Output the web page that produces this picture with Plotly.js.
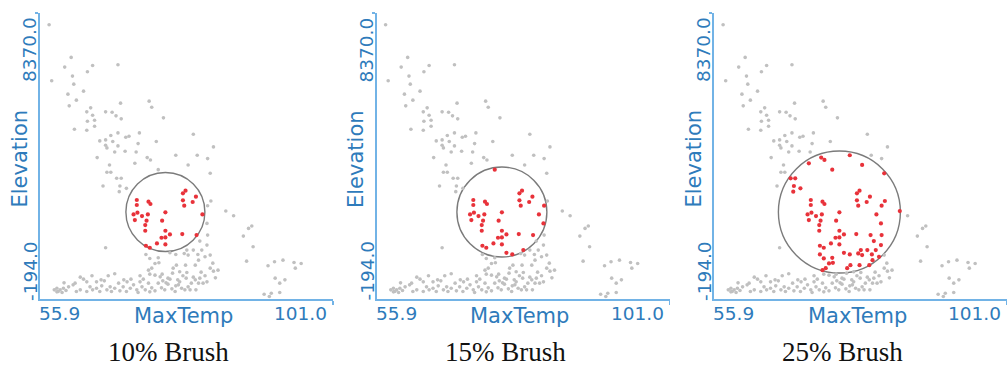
<!DOCTYPE html>
<html>
<head>
<meta charset="utf-8">
<script src="https://cdn.plot.ly/plotly-3.0.1.min.js"></script>
<style>
  html, body { margin: 0; padding: 0; background: #ffffff; }
  #chart { width: 1007px; height: 367px; }
</style>
</head>
<body>
<div id="chart"></div>
<script>
// Weather stations: daily maximum temperature vs. station elevation
const maxTemp = [
  57.3, 60.7, 59.7, 64.0, 67.9, 63.2, 60.9, 57.7, 61.1, 62.6,
  60.2, 61.5, 68.3, 72.7, 73.1, 60.4, 63.7, 63.1, 66.0, 67.0,
  64.0, 67.6, 68.4, 74.9, 63.2, 64.3, 64.3, 61.2, 63.1, 67.9,
  71.2, 66.8, 65.1, 66.0, 67.1, 69.1, 69.6, 73.8, 71.0, 66.0,
  66.2, 67.9, 67.4, 69.0, 70.7, 64.7, 72.4, 76.8, 79.5, 82.6,
  80.1, 81.7, 66.6, 72.9, 66.2, 66.8, 74.1, 67.7, 68.4, 65.6,
  68.2, 68.1, 69.2, 66.0, 78.7, 82.1, 82.2, 81.7, 84.5, 85.7,
  81.6, 88.5, 88.0, 87.2, 88.7, 81.7, 80.5, 81.6, 87.7, 91.0,
  92.0, 93.3, 95.0, 96.1, 95.2, 92.1, 93.6, 92.8, 90.4, 91.2,
  91.5, 92.8, 80.8, 80.2, 79.5, 78.7, 80.3, 82.1, 81.3, 79.8,
  83.3, 82.6, 82.9, 81.3, 80.5, 81.6, 79.8, 79.2, 78.7, 80.3,
  79.0, 72.2, 72.8, 74.1, 75.9, 76.8, 78.1, 78.5, 73.6, 74.2,
  72.6, 73.1, 72.8, 73.6, 74.4, 75.6, 76.3, 76.4, 76.9, 77.4,
  78.3, 78.5, 67.4, 65.3, 64.6, 62.6, 62.1, 61.3, 61.0, 60.3,
  59.5, 59.0, 58.5, 58.1, 58.7, 63.1, 63.6, 64.0, 64.6, 65.4,
  66.2, 66.7, 67.4, 68.0, 68.2, 68.7, 69.3, 69.8, 70.3, 70.8,
  71.3, 71.6, 72.1, 72.6, 73.1, 73.6, 74.1, 74.6, 75.1, 75.6,
  76.2, 76.7, 77.2, 77.7, 78.2, 62.1, 61.5, 63.1, 65.1, 66.9,
  69.2, 74.8, 77.1, 77.9, 71.3, 68.8, 63.9, 59.6, 70.5,
  58.5, 59.3, 59.9, 65.8, 66.4, 69.9, 71.8, 74.7, 75.3, 75.9,
  76.8, 77.4, 78.4, 79.5, 80.7, 82.1, 82.5, 79.9, 81.0, 72.8,
  71.0,
  77.9, 78.3, 77.9, 78.1, 79.4, 79.9, 80.9, 70.8, 70.8, 72.6,
  72.9, 70.3, 70.9, 70.5, 71.6, 72.5, 72.3, 72.1, 72.1, 75.2,
  74.7, 75.2, 75.9, 75.2, 74.6, 73.9, 75.2, 77.8, 80.0, 72.2,
  72.8
];
const elevation = [
  8020, 7040, 6750, 6800, 6820, 6610, 6480, 6340, 6240, 6030,
  5940, 5760, 5670, 5730, 5550, 5590, 5530, 5410, 5410, 5400,
  5310, 5290, 5200, 5230, 5130, 5160, 4980, 4890, 4860, 4780,
  4780, 4700, 4540, 4570, 4520, 4650, 4680, 4520, 4460, 4410,
  4330, 4390, 4210, 4230, 4210, 4040, 4040, 4110, 4740, 4360,
  4110, 4010, 3820, 3970, 3600, 3600, 3680, 3420, 3420, 3190,
  3190, 3020, 3120, 1340, 3820, 3570, 2740, 2600, 2440, 2300,
  2070, 1990, 1920, 1690, 1370, 1720, 1540, 1420, 940, 800,
  920, 970, 900, 870, 730, 430, 380, 280, -50, -120,
  -20, 0, 1270, 1140, 1270, 1120, 970, 1120, 1070, 820,
  670, 640, 440, 500, 430, 320, 380, 280, 170, 280,
  80, 1140, 1020, 1040, 1190, 1140, 1170, 1270, 870, 890,
  670, 730, 550, 520, 470, 430, 580, 730, 820, 620,
  820, 600, 560, 380, 320, 400, 460, 280, 230, 170,
  130, 80, 130, 80, 30, 320, 170, 80, 130, 200,
  80, 170, 130, 280, 50, 170, 320, 130, 230, 80,
  320, 170, 80, 280, 140, 50, 280, 140, 80, 250,
  110, 30, 230, 130, 80, 80, 30, 30, 30, 30,
  30, 350, 380, 500, 500, 380, 500, 290, 3870,
  20, 0, 60, 350, 500, 400, 400, 550, 290, 400,
  200, 320, 430, 460, 610, 730, 880, 80, 280, 20,
  0,
  2970, 3050, 2760, 2600, 2710, 2870, 2340, 2770, 2620, 2720,
  2650, 2340, 2390, 2170, 2290, 2340, 2150, 2020, 1850, 2400,
  2150, 1850, 1740, 1650, 1640, 1470, 1440, 1750, 1720, 1400,
  1340
];

// Brush settings for each panel
const panelCaptions = ['10% Brush', '15% Brush', '25% Brush'];
const brushRadiusPx = [39.5, 45, 61];
const brushMaxTemp = 75.2;
const brushElevation = 2410;

// Axis extents and their end labels
const xRange = [55.9, 101.0];
const yRange = [-194.0, 8370.0];
const xEndLabels = ['55.9', '101.0'];
const yEndLabels = ['-194.0', '8370.0'];
const xTitle = 'MaxTemp';
const yTitle = 'Elevation';

const FIG_W = 1007, FIG_H = 367;
const PLOT_W = 293, PLOT_TOP = 13, PLOT_BOTTOM = 299;
const PLOT_H = PLOT_BOTTOM - PLOT_TOP;
const panelLeft = [40, 376.5, 714];

const AXIS_BLUE = '#72b3e6';
const TEXT_BLUE = '#2e7bbb';
const GREY = '#c0c0c0';
const RED = '#e8323a';
const SANS = 'DejaVu Sans, Verdana, sans-serif';

const data = [];
const shapes = [];
const annotations = [];
const layout = {
  width: FIG_W, height: FIG_H,
  margin: {l: 0, r: 0, t: 0, b: 0, pad: 0},
  paper_bgcolor: '#ffffff', plot_bgcolor: '#ffffff',
  showlegend: false,
  shapes: shapes, annotations: annotations
};

panelLeft.forEach((left, i) => {
  const n = i === 0 ? '' : String(i + 1);
  const xa = 'x' + n, ya = 'y' + n;
  const r = brushRadiusPx[i];

  // points falling inside the circular brush (measured in screen pixels)
  const inX = [], inY = [], outX = [], outY = [];
  for (let k = 0; k < maxTemp.length; k++) {
    const dx = (maxTemp[k] - brushMaxTemp) / (xRange[1] - xRange[0]) * PLOT_W;
    const dy = (elevation[k] - brushElevation) / (yRange[1] - yRange[0]) * PLOT_H;
    if (dx * dx + dy * dy <= r * r) { inX.push(maxTemp[k]); inY.push(elevation[k]); }
    else { outX.push(maxTemp[k]); outY.push(elevation[k]); }
  }
  data.push({
    type: 'scatter', mode: 'markers', x: outX, y: outY, xaxis: xa, yaxis: ya,
    marker: {color: GREY, size: 3.6, line: {width: 0}}, hoverinfo: 'skip'
  });
  data.push({
    type: 'scatter', mode: 'markers', x: inX, y: inY, xaxis: xa, yaxis: ya,
    marker: {color: RED, size: 4.2, line: {width: 0}}, hoverinfo: 'skip'
  });

  layout['xaxis' + n] = {
    domain: [left / FIG_W, Math.min(1, (left + PLOT_W) / FIG_W)],
    range: xRange, anchor: ya, showgrid: false, zeroline: false,
    showline: true, linecolor: AXIS_BLUE, linewidth: 1.6,
    tickvals: [xRange[1]], ticks: 'outside', ticklen: 4, tickwidth: 1.2,
    tickcolor: AXIS_BLUE, showticklabels: false, fixedrange: true
  };
  layout['yaxis' + n] = {
    domain: [1 - PLOT_BOTTOM / FIG_H, 1 - PLOT_TOP / FIG_H],
    range: yRange, anchor: xa, showgrid: false, zeroline: false,
    showline: true, linecolor: AXIS_BLUE, linewidth: 1.6,
    tickvals: [yRange[1]], ticks: 'outside', ticklen: 3, tickwidth: 1.2,
    tickcolor: AXIS_BLUE, showticklabels: false, fixedrange: true
  };

  // brush outline
  shapes.push({
    type: 'circle', xref: xa, yref: ya,
    xsizemode: 'pixel', ysizemode: 'pixel',
    xanchor: brushMaxTemp, yanchor: brushElevation,
    x0: -r, x1: r, y0: -r, y1: r,
    line: {color: '#7b7b7b', width: 1.4}, layer: 'below'
  });

  const xd = xa + ' domain', yd = ya + ' domain';
  const tickFont = {family: SANS, size: 18.5, color: TEXT_BLUE};
  const titleFont = {family: SANS, size: 21, color: TEXT_BLUE};
  const common = {xref: xd, yref: yd, showarrow: false};

  annotations.push(Object.assign({}, common, {
    text: xEndLabels[0], x: 0, y: 0, xanchor: 'left', yanchor: 'middle',
    xshift: -3, yshift: -14, font: tickFont
  }));
  annotations.push(Object.assign({}, common, {
    text: xEndLabels[1], x: 1, y: 0, xanchor: 'right', yanchor: 'middle',
    xshift: -4, yshift: -14, font: tickFont
  }));
  annotations.push(Object.assign({}, common, {
    text: xTitle, x: 0, y: 0, xanchor: 'center', yanchor: 'middle',
    xshift: 143, yshift: -17, font: titleFont
  }));
  annotations.push(Object.assign({}, common, {
    text: yEndLabels[1], x: 0, y: 1, xanchor: 'center', yanchor: 'middle',
    textangle: -90, xshift: -10, yshift: -37, font: tickFont
  }));
  annotations.push(Object.assign({}, common, {
    text: yEndLabels[0], x: 0, y: 0, xanchor: 'center', yanchor: 'middle',
    textangle: -90, xshift: -10, yshift: 28, font: tickFont
  }));
  annotations.push(Object.assign({}, common, {
    text: yTitle, x: 0, y: 0, xanchor: 'center', yanchor: 'middle',
    textangle: -90, xshift: -20.5, yshift: 140, font: titleFont
  }));
  annotations.push(Object.assign({}, common, {
    text: panelCaptions[i], x: 0, y: 0, xanchor: 'center', yanchor: 'middle',
    xshift: 128.5, yshift: -53,
    font: {family: 'Liberation Serif, Times New Roman, serif', size: 27, color: '#111111'}
  }));
});

Plotly.newPlot('chart', data, layout, {displayModeBar: false, staticPlot: true});
</script>
</body>
</html>
